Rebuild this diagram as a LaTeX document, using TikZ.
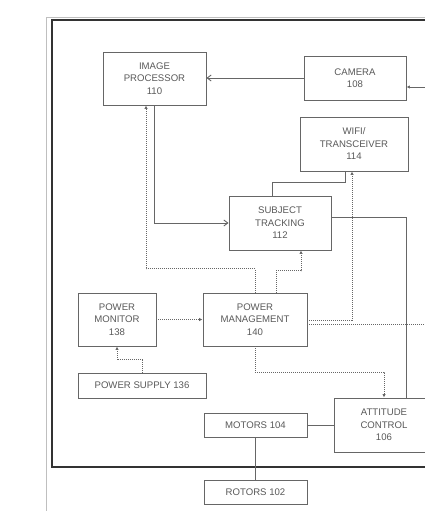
\documentclass[tikz,border=0pt]{standalone}
\usepackage{fontspec}
\setmainfont{Liberation Sans}
\usetikzlibrary{arrows.meta}

\begin{document}
\begin{tikzpicture}[x=1pt,y=-1pt,
  blk/.style={draw=black!60,line width=0.9pt,align=center,inner sep=0pt,
    text=black!65,font=\fontsize{9.6}{12.5}\selectfont},
  wire/.style={draw=black!60,line width=0.9pt},
  dotwire/.style={draw=black!60,line width=1pt,densely dotted},
  openarrow/.style={wire,-{Straight Barb[length=4pt,width=6pt]}},
  dotarrow/.style={dotwire,-{Latex[length=3.5pt,width=3.5pt]}}]
\useasboundingbox (0,0) rectangle (425,511);
\clip (0,0) rectangle (425,511);
\fill[white] (0,0) rectangle (425,511);
% scan border and outer frame
\draw[black!25,line width=0.6pt] (46,511) -- (46,17) -- (425,17);
\draw[black!80,line width=2.4pt] (52,20) rectangle (440,467);
% blocks
\node[blk,minimum width=103pt,minimum height=53pt] (imgproc) at (154.5,78.5) {IMAGE\\PROCESSOR\\110};
\node[blk,minimum width=102pt,minimum height=44pt] (camera) at (355,78) {CAMERA\\108};
\node[blk,minimum width=108pt,minimum height=54pt] (wifi) at (354,144) {WIFI/\\TRANSCEIVER\\114};
\node[blk,minimum width=102pt,minimum height=54pt] (tracking) at (280,223) {SUBJECT\\TRACKING\\112};
\node[blk,minimum width=78pt,minimum height=53pt] (pwrmon) at (117,319.5) {POWER\\MONITOR\\138};
\node[blk,minimum width=104pt,minimum height=53pt] (pwrmgmt) at (255,319.5) {POWER\\MANAGEMENT\\140};
\node[blk,minimum width=128pt,minimum height=25pt] (pwrsupply) at (142,385.5) {POWER SUPPLY 136};
\node[blk,minimum width=103pt,minimum height=24pt] (motors) at (255.5,425) {MOTORS 104};
\node[blk,minimum width=100pt,minimum height=54pt] (attitude) at (384,425) {ATTITUDE\\CONTROL\\106};
\node[blk,minimum width=103pt,minimum height=24pt] (rotors) at (255.5,492) {ROTORS 102};
\coordinate (camin) at (440,87);
\coordinate (pwrout) at (440,324);
% solid connectors
\draw[openarrow] (camera.west) -- (camera.west -| imgproc.east);
\draw[wire,-{Latex[length=3.5pt,width=3.5pt]}] (camin) -- (camin -| camera.east);
\draw[openarrow] (imgproc.south) |- (tracking.west);
\draw[wire] ([xshift=-8pt]tracking.north) -- ++(0,-13) -| ([xshift=-9pt]wifi.south);
\draw[wire] ([yshift=6pt]tracking.east) -| ([xshift=22pt]attitude.north);
\draw[wire] (motors.east) -- (attitude.west);
\draw[wire] (motors.south) -- (rotors.north);
% dotted power lines
\draw[dotarrow] (pwrmgmt.north) -- ++(0,-24) -| ([xshift=-8.5pt]imgproc.south);
\draw[dotarrow] ([xshift=21pt]pwrmgmt.north) -- ++(0,-22) -| ([xshift=21pt]tracking.south);
\draw[dotarrow] ([yshift=-0.5pt]pwrmgmt.east) -| ([xshift=-2pt]wifi.south);
\draw[dotwire] ([yshift=-4.5pt]pwrmgmt.east) -- (pwrout);
\draw[dotarrow] (pwrmgmt.south) -- ++(0,26) -| (attitude.north);
\draw[dotarrow] (pwrmon.east) -- (pwrmgmt.west);
\draw[dotarrow] (pwrsupply.north) -- ++(0,-13) -| (pwrmon.south);
\end{tikzpicture}
\end{document}
